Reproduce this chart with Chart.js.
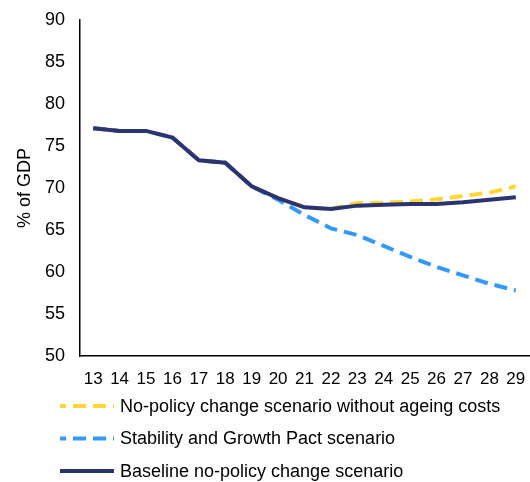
<!DOCTYPE html>
<html>
<head>
<meta charset="utf-8">
<script src="https://cdn.jsdelivr.net/npm/chart.js@4"></script>
<style>
	html, body { margin: 0; padding: 0; background: #fff; }
	#wrap { width: 530px; height: 482px; }
</style>
</head>
<body>
<div id="wrap"><canvas id="chart" width="530" height="482"></canvas></div>
<script>
// Years (2013-2029, shown as two digits)
var years = ['13', '14', '15', '16', '17', '18', '19', '20', '21', '22', '23', '24', '25', '26', '27', '28', '29'];

var noAgeing = [77.1, 76.8, 76.8, 76.0, 73.3, 73.0, 70.2, 68.8, 67.7, 67.5, 68.2, 68.25, 68.4, 68.65, 69.05, 69.45, 70.2];
var sgp      = [77.1, 76.8, 76.8, 76.0, 73.3, 73.0, 70.2, 68.6, 66.8, 65.2, 64.4, 63.1, 61.8, 60.6, 59.6, 58.6, 57.8];
var baseline = [77.1, 76.8, 76.8, 76.0, 73.3, 73.0, 70.2, 68.8, 67.7, 67.5, 67.9, 68.0, 68.1, 68.1, 68.3, 68.6, 68.9];

var yTicks = [50, 55, 60, 65, 70, 75, 80, 85, 90];

var FONT = '"Liberation Sans", Arial, sans-serif';

// Draws the legend as a vertical list below the plot, line samples included.
var listLegend = {
	id: 'listLegend',
	afterDraw: function(chart) {
		var ctx = chart.ctx;
		var sets = chart.data.datasets;
		var y = chart.chartArea.bottom + 50;
		ctx.save();
		ctx.font = '18px ' + FONT;
		ctx.textBaseline = 'middle';
		ctx.fillStyle = '#000';
		sets.forEach(function(ds, i) {
			var yy = y + i * 32.5;
			ctx.beginPath();
			ctx.strokeStyle = ds.borderColor;
			ctx.lineWidth = ds.borderWidth;
			ctx.setLineDash(ds.borderDash || []);
			ctx.lineDashOffset = ds.borderDash ? 7 : 0;
			ctx.moveTo(60, yy);
			ctx.lineTo(114, yy);
			ctx.stroke();
			ctx.setLineDash([]);
			ctx.fillText(ds.label, 120, yy + 1);
		});
		ctx.restore();
	}
};

new Chart(document.getElementById('chart'), {
	type: 'line',
	data: {
		labels: years,
		datasets: [
			{
				label: 'No-policy change scenario without ageing costs',
				data: noAgeing,
				borderColor: '#ffd633',
				borderWidth: 4,
				borderDash: [13, 7],
				pointRadius: 0,
				tension: 0,
				order: 3
			},
			{
				label: 'Stability and Growth Pact scenario',
				data: sgp,
				borderColor: '#3399ff',
				borderWidth: 4,
				borderDash: [13, 7],
				pointRadius: 0,
				tension: 0,
				order: 2
			},
			{
				label: 'Baseline no-policy change scenario',
				data: baseline,
				borderColor: '#2b3370',
				borderWidth: 4,
				pointRadius: 0,
				tension: 0,
				order: 1
			}
		]
	},
	options: {
		responsive: false,
		animation: false,
		layout: {
			padding: { top: 20, right: 1, bottom: 96, left: 0 }
		},
		plugins: {
			legend: { display: false },
			tooltip: { enabled: false }
		},
		scales: {
			x: {
				offset: true,
				grid: { display: false, drawTicks: false },
				border: { color: '#000', width: 1.5 },
				ticks: {
					color: '#000',
					font: { family: FONT, size: 17 },
					maxRotation: 0,
					autoSkip: false,
					padding: 13
				},
				afterFit: function(s) {
					s.height = 30;
					s.paddingLeft = 0;
					s.paddingRight = 0;
				}
			},
			y: {
				min: 50,
				max: 90,
				afterBuildTicks: function(s) {
					s.ticks = yTicks.map(function(v) { return { value: v }; });
				},
				grid: { display: false, drawTicks: false },
				border: { color: '#000', width: 1.5 },
				ticks: {
					color: '#000',
					font: { family: FONT, size: 18 },
					padding: 15
				},
				title: {
					display: true,
					text: '% of GDP',
					color: '#000',
					font: { family: FONT, size: 18 },
					padding: { top: 14, bottom: 8 }
				},
				afterFit: function(s) {
					s.width = 80;
					s.paddingTop = 0;
					s.paddingBottom = 0;
				}
			}
		}
	},
	plugins: [listLegend]
});
</script>
</body>
</html>
